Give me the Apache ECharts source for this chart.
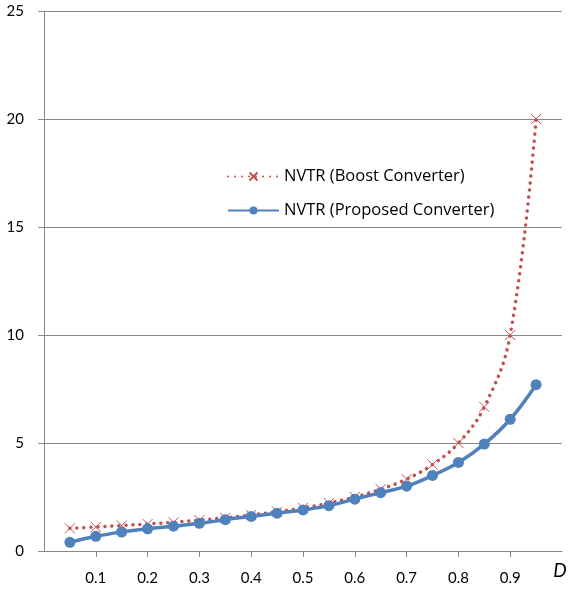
<!DOCTYPE html>
<html><head><meta charset="utf-8">
<script src="https://cdn.jsdelivr.net/npm/echarts@6/dist/echarts.min.js"></script>
<style>html,body{margin:0;padding:0;background:#fff}#c{width:573px;height:593px}</style>
</head><body><div id="c"></div>
<script>
const dutyCycle = [0.05,0.1,0.15,0.2,0.25,0.3,0.35,0.4,0.45,0.5,0.55,0.6,0.65,0.7,0.75,0.8,0.85,0.9,0.95];
const boostNVTR = [1.05,1.11,1.18,1.25,1.33,1.43,1.54,1.67,1.82,2.0,2.22,2.5,2.86,3.33,4.0,5.0,6.67,10.0,20.0];
const proposedNVTR = [0.4,0.68,0.88,1.03,1.15,1.28,1.45,1.6,1.75,1.9,2.1,2.4,2.7,3.0,3.5,4.1,4.95,6.1,7.7];
const boostName = 'NVTR (Boost Converter)';
const proposedName = 'NVTR (Proposed Converter)';

const chart = echarts.init(document.getElementById('c'));
const font = 'Lato, "Open Sans", sans-serif';
const legendFont = '"Open Sans", sans-serif';
const gridColor = '#888888';
const xPath = 'path://M0,0L10,10M10,0L0,10';
chart.setOption({
  animation: false,
  textStyle: {fontFamily: font},
  grid: {left: 44, right: 11, top: 11, bottom: 42},
  legend: {
    orient: 'vertical', left: 222, top: 163, itemWidth: 51, itemHeight: 10, itemGap: 17,
    textStyle: {fontSize: 16.5, color: '#000', fontFamily: legendFont},
    data: [boostName, proposedName]
  },
  xAxis: {
    type: 'value', min: 0, max: 1, interval: 0.1,
    name: 'D', nameLocation: 'end', nameGap: -2,
    nameTextStyle: {fontSize: 19, fontStyle: 'italic', color: '#000', align: 'center', verticalAlign: 'top', padding: [10,0,0,0], fontFamily: font},
    axisLine: {show: true, onZero: false, lineStyle: {color: gridColor, width: 1}},
    axisTick: {show: true, length: 6, lineStyle: {color: gridColor}},
    splitLine: {show: false},
    axisLabel: {fontSize: 15, color: '#000', margin: 20, showMinLabel: false, showMaxLabel: false,
      formatter: v => (v <= 0 || v >= 1) ? '' : v.toFixed(1)}
  },
  yAxis: {
    type: 'value', min: 0, max: 25, interval: 5,
    axisLine: {show: true, lineStyle: {color: gridColor, width: 1}},
    axisTick: {show: true, length: 6, lineStyle: {color: gridColor}},
    splitLine: {show: true, lineStyle: {color: gridColor, width: 1}},
    axisLabel: {fontSize: 15, color: '#000', margin: 20}
  },
  series: [
    {
      name: boostName, type: 'line', smooth: 0.4,
      data: dutyCycle.map((d, i) => [d, boostNVTR[i]]),
      symbol: xPath, symbolSize: 10, showSymbol: true,
      lineStyle: {color: '#C0504D', width: 3.5, type: [0.01, 7], cap: 'round'},
      itemStyle: {color: 'rgba(0,0,0,0)', borderColor: '#C0504D', borderWidth: 1}
    },
    {
      name: proposedName, type: 'line', smooth: 0.4,
      data: dutyCycle.map((d, i) => [d, proposedNVTR[i]]),
      symbol: 'circle', symbolSize: 11, showSymbol: true,
      lineStyle: {color: '#4F81BD', width: 3.5},
      itemStyle: {color: '#4F81BD', borderColor: '#4F81BD', borderWidth: 0}
    }
  ]
});
</script></body></html>
